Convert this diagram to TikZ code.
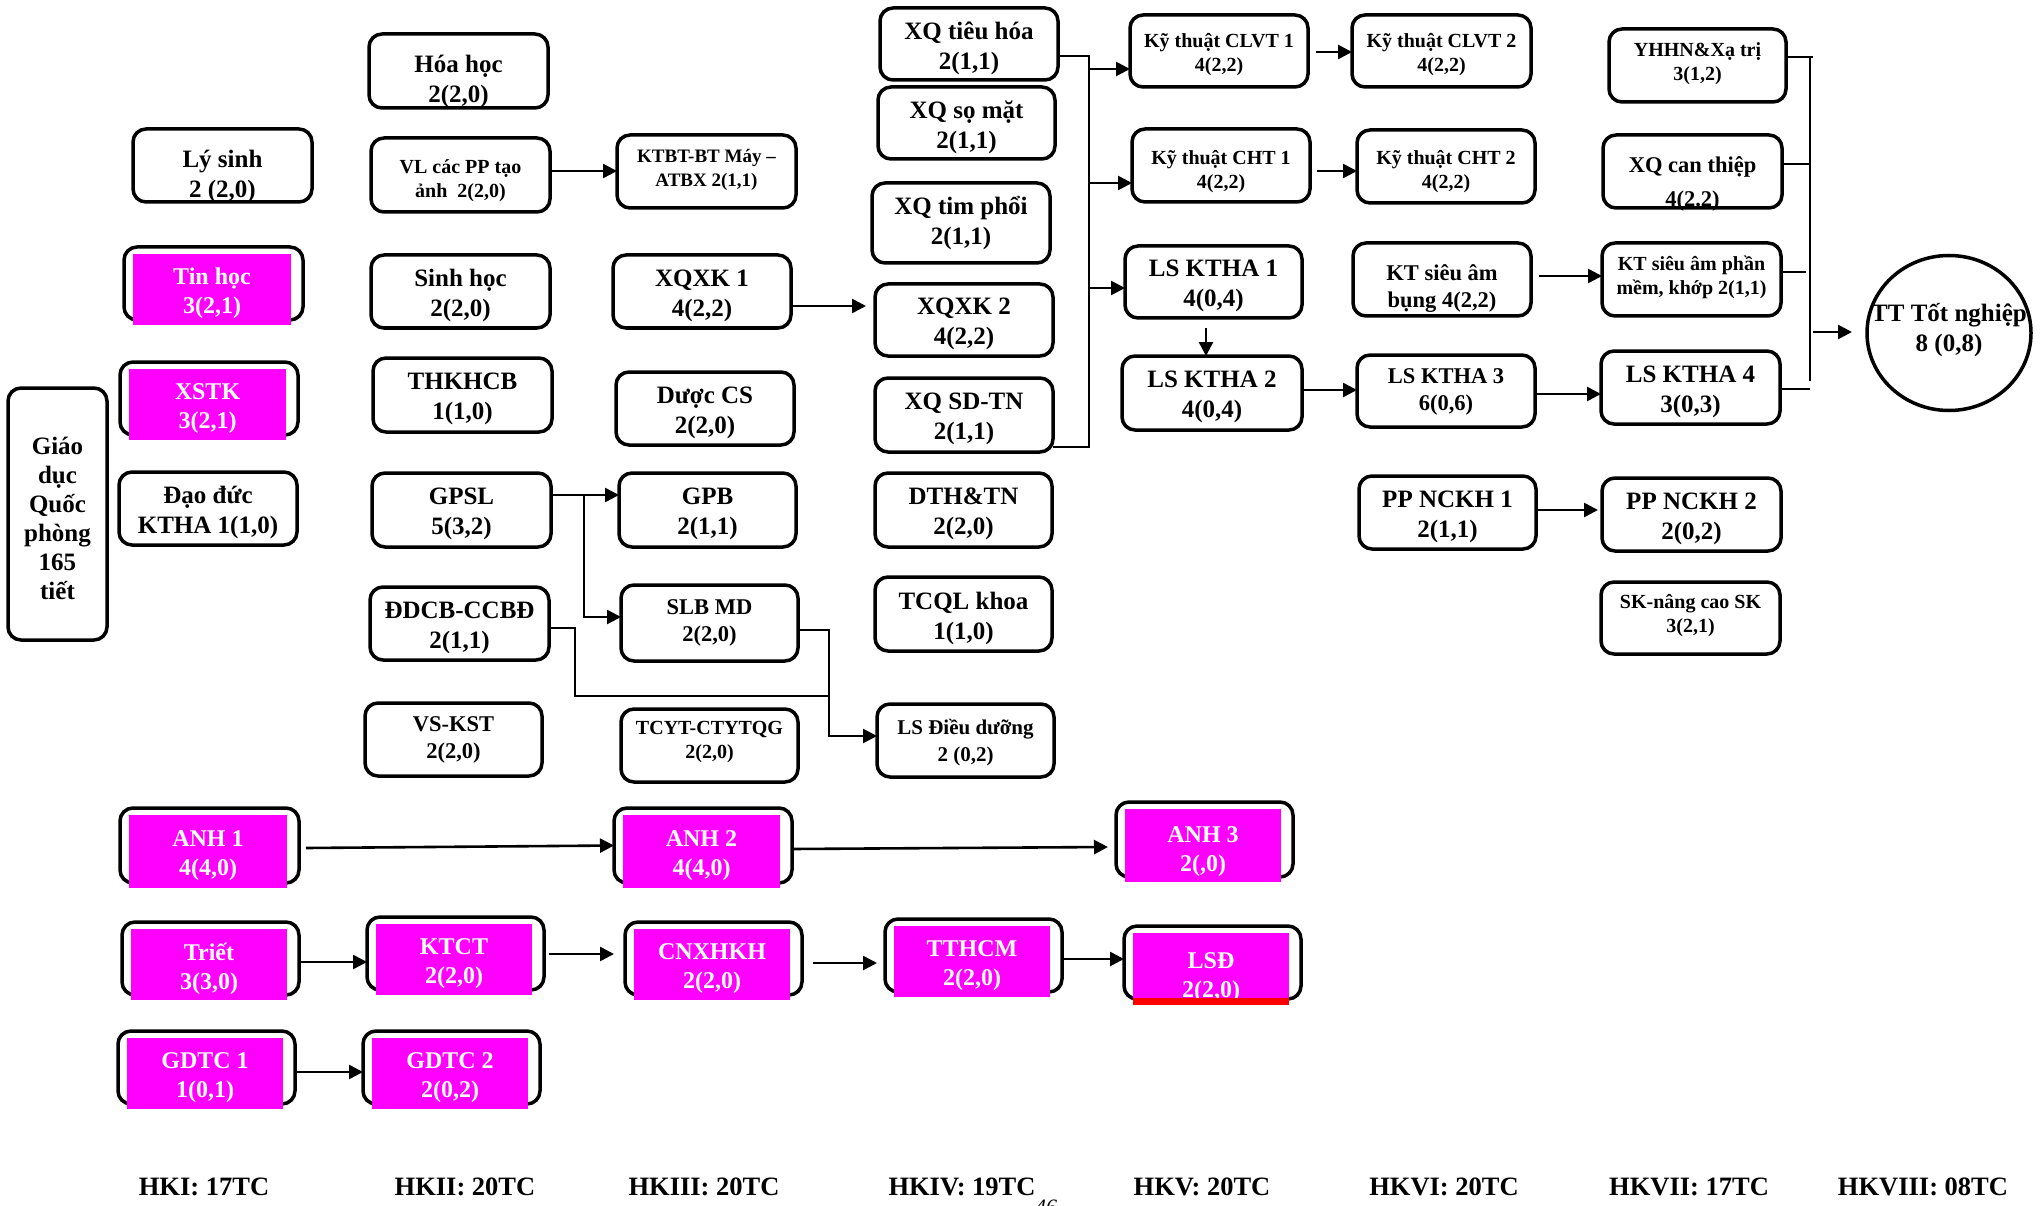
\documentclass[tikz,border=0pt]{standalone}
\usepackage{fontspec}
\setmainfont{Liberation Serif}
\usetikzlibrary{arrows.meta,calc,shapes.geometric}
\definecolor{mag}{RGB}{255,0,255}
\tikzset{
  box/.style={draw=black, line width=3.5pt, rounded corners=13pt, inner sep=0pt, outer sep=0pt},
  mfill/.style={fill=mag, draw=none, inner sep=0pt, outer sep=0pt},
  txt/.style={align=center, inner sep=0pt, outer sep=0pt},
  fL/.style={font=\fontsize{25}{30}\selectfont\bfseries},
  fG/.style={font=\fontsize{25}{29}\selectfont\bfseries},
  fM/.style={font=\fontsize{22.5}{27}\selectfont\bfseries},
  fC/.style={font=\fontsize{22.5}{34}\selectfont\bfseries},
  fD/.style={font=\fontsize{21}{27}\selectfont\bfseries},
  fS/.style={font=\fontsize{20}{24}\selectfont\bfseries},
  fK/.style={font=\fontsize{19}{24}\selectfont\bfseries},
  fW/.style={font=\fontsize{24}{29}\selectfont\bfseries, text=white},
  fH/.style={font=\fontsize{26.5}{30}\selectfont\bfseries, inner sep=0pt},
  arr/.style={line width=2.6pt, -{Triangle[length=14pt,width=14pt]}},
  ln/.style={line width=2pt},
}
% name x1 y1 x2 y2 dy style text
\newcommand\bx[8]{%
  \node[box, minimum width={(#4-#2)*1pt}, minimum height={(#5-#3)*1pt}] (#1) at ({(#2+#4)/2},{(#3+#5)/2}) {};
  \node[txt,#7] (#1-t) at ({(#2+#4)/2},{(#3+#5)/2+#6+4}) {#8};}
% name x1 y1 x2 y2 dy text (magenta)
\newcommand\mbx[7]{%
  \node[box, minimum width={(#4-#2)*1pt}, minimum height={(#5-#3)*1pt}] (#1) at ({(#2+#4)/2},{(#3+#5)/2}) {};
  \node[mfill, minimum width={(#4-#2-21)*1pt}, minimum height={(#5-#3-2)*1pt}] (#1-f) at ({(#2+#4-3)/2},{(#3+#5+12)/2}) {};
  \node[txt,fW] (#1-t) at ({(#2+#4-3)/2},{(#3+#5+12)/2+#6+4}) {#7};}
\begin{document}
\begin{tikzpicture}[x=1pt,y=-1pt]
\fill[white] (0,0) rectangle (2040,1206);
\useasboundingbox (0,0) rectangle (2040,1206);

% HKI
\bx{lysinh}{133}{129}{312}{202}{7}{fL}{Lý sinh\\2 (2,0)}
\mbx{tinhoc}{124}{247}{303}{320}{0}{Tin học\\3(2,1)}
\mbx{xstk}{120}{362}{298}{435}{0}{XSTK\\3(2,1)}
\bx{gdqp}{8}{388}{107}{640}{0}{fG}{Giáo\\dục\\Quốc\\phòng\\165\\tiết}
\bx{daoduc}{119}{472}{297}{545}{0}{fL}{Đạo đức\\KTHA 1(1,0)}
% HKII
\bx{hoahoc}{369}{34}{548}{108}{6}{fL}{Hóa học\\2(2,0)}
\bx{vl}{371}{138}{550}{212}{2}{fS}{VL các PP tạo\\ảnh\ \ 2(2,0)}
\bx{sinhhoc}{371}{255}{550}{328}{0}{fL}{Sinh học\\2(2,0)}
\bx{thkhcb}{373}{358}{552}{432}{0}{fL}{THKHCB\\1(1,0)}
\bx{gpsl}{372}{473}{551}{547}{0}{fL}{GPSL\\5(3,2)}
\bx{ddcb}{370}{587}{549}{660}{0}{fL}{ĐDCB-CCBĐ\\2(1,1)}
\bx{vskst}{365}{703}{542}{776}{-4}{fM}{VS-KST\\2(2,0)}
% HKIII
\bx{ktbt}{617}{135}{796}{208}{-6}{fK}{KTBT-BT Máy –\\ATBX 2(1,1)}
\bx{xqxk1}{613}{255}{791}{328}{0}{fL}{XQXK 1\\4(2,2)}
\bx{duoccs}{616}{372}{794}{445}{0}{fL}{Dược CS\\2(2,0)}
\bx{gpb}{619}{473}{796}{547}{0}{fL}{GPB\\2(1,1)}
\bx{slbmd}{621}{585}{798}{661}{-4}{fM}{SLB MD\\2(2,0)}
\bx{tcyt}{621}{709}{798}{782}{-7}{fS}{TCYT-CTYTQG\\2(2,0)}
% HKIV
\bx{xqth}{880}{8}{1058}{80}{0}{fL}{XQ tiêu hóa\\2(1,1)}
\bx{xqsm}{878}{87}{1055}{159}{0}{fL}{XQ sọ mặt\\2(1,1)}
\bx{xqtp}{872}{183}{1050}{263}{-4}{fL}{XQ tim phổi\\2(1,1)}
\bx{xqxk2}{875}{284}{1053}{356}{0}{fL}{XQXK 2\\4(2,2)}
\bx{xqsd}{875}{378}{1053}{452}{0}{fL}{XQ SD-TN\\2(1,1)}
\bx{dth}{875}{473}{1052}{547}{0}{fL}{DTH\&TN\\2(2,0)}
\bx{tcql}{875}{577}{1052}{651}{0}{fL}{TCQL khoa\\1(1,0)}
\bx{lsdd}{877}{704}{1054}{777}{-2}{fD}{LS Điều dưỡng\\2 (0,2)}
% HKV
\bx{clvt1}{1130}{15}{1308}{87}{0}{fS}{Kỹ thuật CLVT 1\\4(2,2)}
\bx{cht1}{1132}{129}{1310}{202}{2}{fS}{Kỹ thuật CHT 1\\4(2,2)}
\bx{lsktha1}{1125}{246}{1302}{318}{0}{fL}{LS KTHA 1\\4(0,4)}
\bx{lsktha2}{1122}{356}{1302}{430}{0}{fL}{LS KTHA 2\\4(0,4)}
% HKVI
\bx{clvt2}{1352}{15}{1531}{87}{0}{fS}{Kỹ thuật CLVT 2\\4(2,2)}
\bx{cht2}{1357}{130}{1535}{203}{1}{fS}{Kỹ thuật CHT 2\\4(2,2)}
\bx{ktsab}{1353}{243}{1531}{316}{5}{fM}{KT siêu âm\\bụng 4(2,2)}
\bx{lsktha3}{1357}{355}{1535}{427}{-3}{fM}{LS KTHA 3\\6(0,6)}
\bx{ppnckh1}{1359}{476}{1536}{549}{0}{fL}{PP NCKH 1\\2(1,1)}
% HKVII
\bx{yhhn}{1609}{29}{1786}{102}{-6}{fS}{YHHN\&Xạ trị\\3(1,2)}
\bx{xqct}{1603}{135}{1782}{208}{8.5}{fC}{XQ can thiệp\\4(2.2)}
\bx{ktsapm}{1602}{243}{1781}{316}{-6}{fS}{KT siêu âm phần\\mềm, khớp 2(1,1)}
\bx{lsktha4}{1601}{351}{1780}{424}{0}{fL}{LS KTHA 4\\3(0,3)}
\bx{ppnckh2}{1602}{478}{1781}{551}{0}{fL}{PP NCKH 2\\2(0,2)}
\bx{sknc}{1601}{582}{1780}{654}{-6}{fS}{SK-nâng cao SK\\3(2,1)}
% HKVIII
\node[draw=black, line width=3.5pt, ellipse, minimum width=164pt, minimum height=155pt, inner sep=0pt] (tt) at (1949,333) {};
\node[txt,fL] (tt-t) at (1949,330) {TT Tốt nghiệp\\8 (0,8)};

% magenta rows
\mbx{anh1}{120}{808}{299}{883}{0}{ANH 1\\4(4,0)}
\mbx{anh2}{614}{808}{792}{883}{0}{ANH 2\\4(4,0)}
\mbx{anh3}{1116}{802}{1293}{877}{2}{ANH 3\\2(,0)}
\mbx{triet}{122}{922}{299}{995}{0}{Triết\\3(3,0)}
\mbx{ktct}{367}{917}{544}{990}{0}{KTCT\\2(2,0)}
\mbx{cnxhkh}{625}{922}{802}{995}{0}{CNXHKH\\2(2,0)}
\mbx{tthcm}{885}{919}{1062}{992}{0}{TTHCM\\2(2,0)}
\mbx{lsd}{1124}{926}{1301}{999}{5}{LSĐ\\2(2,0)}
\fill[red] (1133,998) rectangle (1289,1005);
\mbx{gdtc1}{118}{1031}{295}{1104}{0}{GDTC 1\\1(0,1)}
\mbx{gdtc2}{363}{1031}{540}{1104}{0}{GDTC 2\\2(0,2)}

% semester labels
\node[fH] (sem1) at (204,1187) {HKI: 17TC};
\node[fH] (sem2) at (465,1187) {HKII: 20TC};
\node[fH] (sem3) at (704,1187) {HKIII: 20TC};
\node[fH] (sem4) at (962,1187) {HKIV: 19TC};
\node[fH] (sem5) at (1202,1187) {HKV: 20TC};
\node[fH] (sem6) at (1444,1187) {HKVI: 20TC};
\node[fH] (sem7) at (1689,1187) {HKVII: 17TC};
\node[fH] (sem8) at (1923,1187) {HKVIII: 08TC};
\node[font=\fontsize{22}{22}\selectfont\itshape, anchor=north, inner sep=0pt] (pg) at (1046,1200) {46};

% connectors
\coordinate (yA) at (0,171);
\draw[arr] (vl.east |- yA) -- (ktbt.west |- yA);
\coordinate (c1) at (866,306);
\draw[arr] (xqxk1.east |- c1) -- (c1);
% XQ bracket
\coordinate (b1) at (1089,56);
\coordinate (b2) at (1089,447);
\draw[ln] (xqth.east |- b1) -- (b1) -- (b2) -- (xqsd.east |- b2);
\coordinate (y69) at (0,69);
\coordinate (y183) at (0,183);
\coordinate (y288) at (0,288);
\draw[arr] (b1 |- y69) -- (clvt1.west |- y69);
\draw[arr] (b1 |- y183) -- (cht1.west |- y183);
\draw[arr] (b1 |- y288) -- (lsktha1.west |- y288);
% HKV -> HKVI
\coordinate (s52) at (1316,52);
\draw[arr] (s52) -- (clvt2.west |- s52);
\coordinate (s171) at (1317,171);
\draw[arr] (s171) -- (cht2.west |- s171);
\coordinate (v1) at (1206,328);
\draw[arr] (v1) -- (lsktha2.north -| v1);
\coordinate (y390) at (0,390);
\draw[arr] (lsktha2.east |- y390) -- (lsktha3.west |- y390);
% HKVI -> HKVII
\coordinate (s276) at (1539,276);
\draw[arr] (s276) -- (ktsapm.west |- s276);
\coordinate (y394) at (0,394);
\draw[arr] (lsktha3.east |- y394) -- (lsktha4.west |- y394);
\coordinate (p510) at (1598,510);
\draw[arr] (ppnckh1.east |- p510) -- (p510);
% right bracket
\coordinate (r1) at (1810,57);
\coordinate (r2) at (1810,381);
\draw[ln] (r1) -- (r2);
\draw[ln] (yhhn.east |- r1) -- ++(27,0);
\coordinate (r3) at (1810,164);
\draw[ln] (xqct.east |- r3) -- (r3);
\coordinate (r4) at (1806,272);
\draw[ln] (ktsapm.east |- r4) -- (r4);
\coordinate (r5) at (1810,389);
\draw[ln] (lsktha4.east |- r5) -- (r5);
\coordinate (r6) at (1813,332);
\coordinate (r7) at (1852,332);
\draw[arr] (r6) -- (r7);
% GPSL / DDCB / SLB
\coordinate (j1) at (584,495);
\coordinate (j2) at (584,617);
\draw[arr] (gpsl.east |- j1) -- (gpb.west |- j1);
\draw[arr] (j1) -- (j2) -- (slbmd.west |- j2);
\coordinate (d1) at (575,628);
\coordinate (d2) at (575,696);
\coordinate (s1) at (829,630);
\coordinate (s2) at (829,736);
\draw[ln] (ddcb.east |- d1) -- (d1) -- (d2) -- (s1 |- d2);
\draw[arr] (slbmd.east |- s1) -- (s1) -- (s2) -- (lsdd.west |- s2);
% bottom rows
\draw[arr] ($(anh1.east)+(7,2.5)$) -- (anh2.west);
\draw[arr] ($(anh2.east)+(0,3.5)$) -- ($(anh3.west)+(-8,7.5)$);
\coordinate (t1) at (0,962);
\draw[arr] (triet.east |- t1) -- (ktct.west |- t1);
\draw[arr] ($(ktct.east)+(5,0.5)$) -- ($(cnxhkh.west)+(-11,-4.5)$);
\draw[arr] ($(cnxhkh.east)+(11,4.5)$) -- ($(tthcm.west)+(-8,7.5)$);
\coordinate (t4) at (0,959);
\draw[arr] (tthcm.east |- t4) -- (lsd.west |- t4);
\coordinate (t5) at (0,1072);
\draw[arr] (gdtc1.east |- t5) -- (gdtc2.west |- t5);
\end{tikzpicture}
\end{document}
